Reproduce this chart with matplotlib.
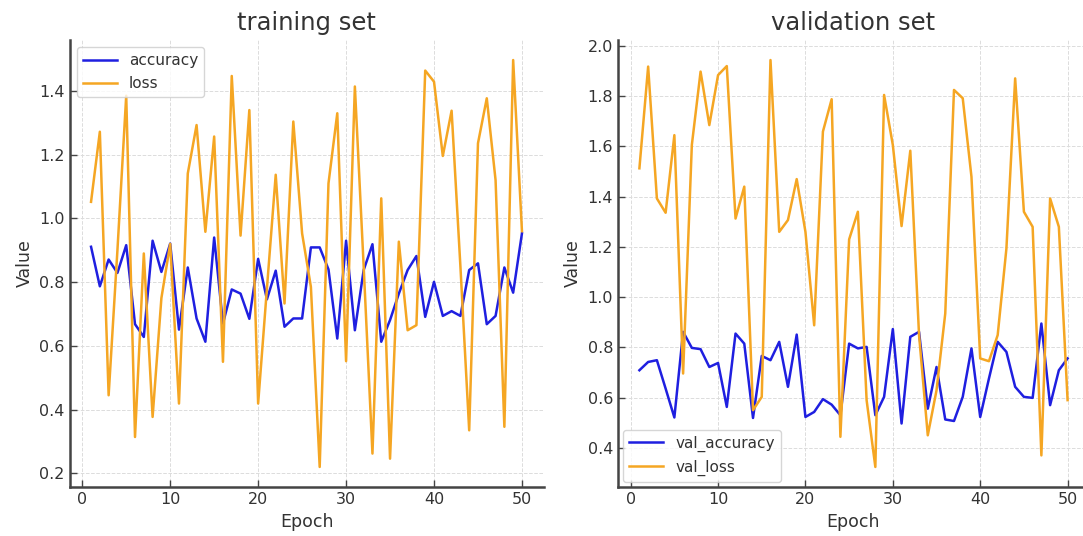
import numpy as np
import matplotlib
matplotlib.use("Agg")
import matplotlib.pyplot as plt

epochs = list(range(1, 51))

accuracy = [0.911, 0.787, 0.871, 0.829, 0.916, 0.668, 0.628, 0.930, 0.832, 0.921,
            0.651, 0.846, 0.686, 0.613, 0.940, 0.670, 0.777, 0.764, 0.685, 0.873,
            0.746, 0.836, 0.660, 0.686, 0.686, 0.909, 0.909, 0.840, 0.623, 0.930,
            0.649, 0.838, 0.919, 0.613, 0.681, 0.764, 0.838, 0.882, 0.691, 0.801,
            0.694, 0.709, 0.694, 0.838, 0.859, 0.668, 0.694, 0.846, 0.767, 0.953]

loss = [1.052, 1.272, 0.445, 0.900, 1.385, 0.314, 0.890, 0.377, 0.750, 0.920,
        0.419, 1.141, 1.293, 0.958, 1.257, 0.550, 1.447, 0.946, 1.340, 0.419,
        0.780, 1.137, 0.733, 1.304, 0.953, 0.785, 0.220, 1.110, 1.330, 0.552,
        1.414, 0.850, 0.262, 1.063, 0.246, 0.927, 0.649, 0.665, 1.464, 1.429,
        1.196, 1.338, 0.850, 0.335, 1.236, 1.377, 1.120, 0.346, 1.497, 0.960]

val_accuracy = [0.709, 0.742, 0.749, 0.636, 0.521, 0.862, 0.798, 0.793, 0.722, 0.738,
                0.563, 0.855, 0.815, 0.519, 0.766, 0.749, 0.822, 0.643, 0.851, 0.523,
                0.543, 0.594, 0.572, 0.530, 0.815, 0.796, 0.802, 0.530, 0.603, 0.873,
                0.497, 0.842, 0.862, 0.556, 0.722, 0.513, 0.507, 0.603, 0.796, 0.523,
                0.676, 0.822, 0.782, 0.643, 0.603, 0.599, 0.895, 0.570, 0.709, 0.756]

val_loss = [1.513, 1.918, 1.393, 1.336, 1.645, 0.696, 1.606, 1.898, 1.685, 1.884,
            1.920, 1.313, 1.440, 0.550, 0.603, 1.944, 1.260, 1.307, 1.470, 1.260,
            0.888, 1.659, 1.788, 0.444, 1.230, 1.340, 0.590, 0.324, 1.805, 1.606,
            1.283, 1.583, 0.850, 0.450, 0.629, 0.935, 1.825, 1.792, 1.479, 0.756,
            0.745, 0.849, 1.194, 1.871, 1.340, 1.280, 0.370, 1.393, 1.280, 0.590]

W, H = 1083, 536
fig = plt.figure(figsize=(W / 100, H / 100), dpi=100)

# axes boxes measured in pixels from the reference
ax1 = fig.add_axes([69.5 / W, (H - 487.3) / H, 474 / W, 447.6 / H])
ax2 = fig.add_axes([618 / W, (H - 487.3) / H, 471 / W, 447.6 / H])

text_color = "#333333"


def style_axes(ax, title):
    ax.set_title(title, fontsize=17.5, color=text_color, pad=7)
    ax.set_xlabel("Epoch", fontsize=12.5, color=text_color)
    ax.set_ylabel("Value", fontsize=12.5, color=text_color)
    ax.grid(True, linestyle="--", color="#dcdcdc", linewidth=0.7)
    ax.spines["top"].set_visible(False)
    ax.spines["right"].set_visible(False)
    for s in ("left", "bottom"):
        ax.spines[s].set_color("#444444")
        ax.spines[s].set_linewidth(1.8)
    ax.tick_params(direction="in", length=5, width=1, colors="#444444",
                   labelsize=11.5, labelcolor=text_color)


ax1.plot(epochs, accuracy, color="#1f1fe0", linewidth=1.8, label="accuracy")
ax1.plot(epochs, loss, color="#f5a623", linewidth=1.8, label="loss")
style_axes(ax1, "training set")
ax1.set_xticks([0, 10, 20, 30, 40, 50])
ax1.set_yticks([0.2, 0.4, 0.6, 0.8, 1.0, 1.2, 1.4])
ax1.legend(loc="upper left", fontsize=11, frameon=True, edgecolor="#cccccc",
           labelcolor=text_color, handlelength=2.2)

ax2.plot(epochs, val_accuracy, color="#1f1fe0", linewidth=1.8, label="val_accuracy")
ax2.plot(epochs, val_loss, color="#f5a623", linewidth=1.8, label="val_loss")
style_axes(ax2, "validation set")
ax2.set_xticks([0, 10, 20, 30, 40, 50])
ax2.set_yticks([0.4, 0.6, 0.8, 1.0, 1.2, 1.4, 1.6, 1.8, 2.0])
ax2.legend(loc="lower left", fontsize=11, frameon=True, edgecolor="#cccccc",
           labelcolor=text_color, handlelength=2.2, borderaxespad=0.35)

fig.savefig("out.png", dpi=100)
